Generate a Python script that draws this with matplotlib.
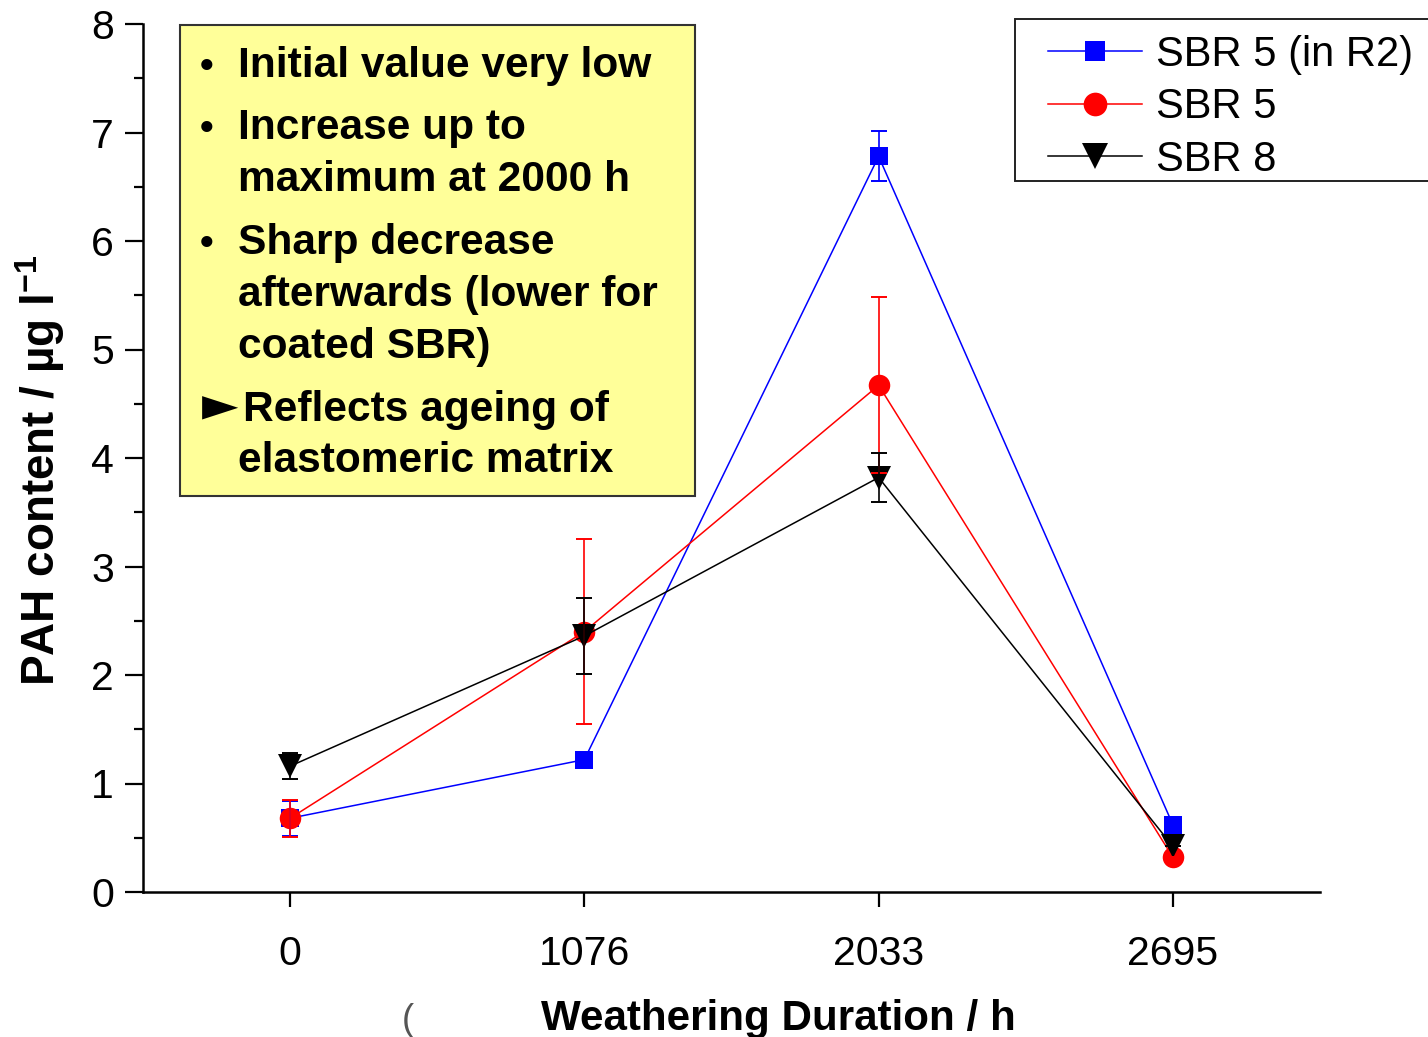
import numpy as np
import matplotlib
matplotlib.use('Agg')
import matplotlib.pyplot as plt
from matplotlib.patches import Rectangle
from matplotlib.lines import Line2D

plt.rcParams['font.family'] = ['Liberation Sans', 'DejaVu Sans']
plt.rcParams['mathtext.fontset'] = 'custom'
plt.rcParams['mathtext.rm'] = 'Liberation Sans'
plt.rcParams['mathtext.bf'] = 'Liberation Sans:bold'

# weathering durations (categorical axis)
durations = ['0', '1076', '2033', '2695']

# PAH content / ug l-1 and error bars
sbr5_r2 = [0.68, 1.22, 6.78, 0.62]
sbr5_r2_err = [0.16, 0.0, 0.23, 0.0]
sbr5 = [0.68, 2.40, 4.67, 0.32]
sbr5_err = [0.17, 0.85, 0.81, 0.0]
sbr8 = [1.16, 2.36, 3.82, 0.42]
sbr8_err = [0.12, 0.35, 0.23, 0.0]

labels = ['SBR 5 (in R2)', 'SBR 5', 'SBR 8']

W, H = 1428, 1037
fig = plt.figure(figsize=(W / 100, H / 100), dpi=100)

# helpers to go from pixel positions to figure fractions
def fx(px):
    return px / W

def fy(py):
    return 1 - py / H

ax = fig.add_axes([fx(143), fy(892), fx(1320) - fx(143), fy(24) - fy(892)])
x = np.arange(len(durations))

series = [(sbr5_r2, sbr5_r2_err, '#0000FF', 's', 13),
          (sbr5, sbr5_err, '#FF0000', 'o', 15.5),
          (sbr8, sbr8_err, '#000000', 'v', 17)]

for i, (vals, err, col, mk, ms) in enumerate(series):
    ax.plot(x, vals, color=col, lw=1.1, marker=mk, markersize=ms,
            markeredgewidth=0, zorder=3 + i)
    ax.errorbar(x, vals, yerr=err, fmt='none', ecolor=col, elinewidth=1.2,
                capsize=6, capthick=1.4, zorder=6 + i)

ax.set_xlim(-0.5, 3.5)
ax.set_ylim(0, 8)
ax.set_xticks(x)
ax.set_xticklabels(durations)
ax.set_yticks(range(0, 9))
ax.set_yticks(np.arange(0.5, 8, 1), minor=True)
for s in ['top', 'right']:
    ax.spines[s].set_visible(False)
for s in ['left', 'bottom']:
    ax.spines[s].set_linewidth(1.8)
ax.tick_params(axis='y', which='major', length=13, width=1.6, labelsize=29.5, pad=8)
ax.tick_params(axis='y', which='minor', length=6.5, width=1.6)
ax.tick_params(axis='x', which='major', length=11, width=1.6, labelsize=29.5, pad=20)

# axis labels
fig.text(fx(778), fy(1030), 'Weathering Duration / h', fontsize=30.3,
         fontweight='bold', ha='center', va='baseline')
fig.text(fx(408), fy(1030), '(', fontsize=26, ha='center', va='baseline',
         color='#555555')
fig.text(fx(40), fy(470), r'PAH content / µg l$^{\mathbf{-1}}$', fontsize=33,
         fontweight='bold', rotation=90, ha='center', va='center')

# yellow annotation box
fig.patches.append(Rectangle((fx(180), fy(496)), fx(695) - fx(180), fy(25) - fy(496),
                             transform=fig.transFigure, facecolor='#FFFF99',
                             edgecolor='#333333', lw=1.5, zorder=10))
box_lines = [('•', 'Initial value very low', 77),
             ('•', 'Increase up to', 139),
             ('', 'maximum at 2000 h', 191),
             ('•', 'Sharp decrease', 254),
             ('', 'afterwards (lower for', 306),
             ('', 'coated SBR)', 358),
             ('►', 'Reflects ageing of', 421),
             ('', 'elastomeric matrix', 472)]
for sym, txt, yb in box_lines:
    tx = 238
    if sym == '•':
        fig.text(fx(207), fy(yb), sym, fontsize=28, fontweight='bold',
                 ha='center', va='baseline', zorder=11)
    elif sym == '►':
        fig.text(fx(202), fy(yb - 1), sym, fontsize=34, family='DejaVu Sans',
                 ha='left', va='baseline', zorder=11)
        tx = 243
    fig.text(fx(tx), fy(yb), txt, fontsize=30.6, fontweight='bold',
             ha='left', va='baseline', zorder=11)

# legend with manual frame
fig.patches.append(Rectangle((fx(1015), fy(181)), fx(1440) - fx(1015), fy(19) - fy(181),
                             transform=fig.transFigure, facecolor='white',
                             edgecolor='#222222', lw=1.4, zorder=10))
handles = [Line2D([], [], color=c, lw=1.1, marker=m, markersize=ms * 1.1,
                  markeredgewidth=0)
           for _, _, c, m, ms in series]
leg = fig.legend(handles, labels, loc='upper left',
                 bbox_to_anchor=(fx(1048), fy(35)), frameon=False, fontsize=30,
                 handlelength=2.25, handletextpad=0.33, labelspacing=0.3,
                 borderpad=0.0, borderaxespad=0)
leg.set_zorder(12)

fig.savefig('out.png', dpi=100)
